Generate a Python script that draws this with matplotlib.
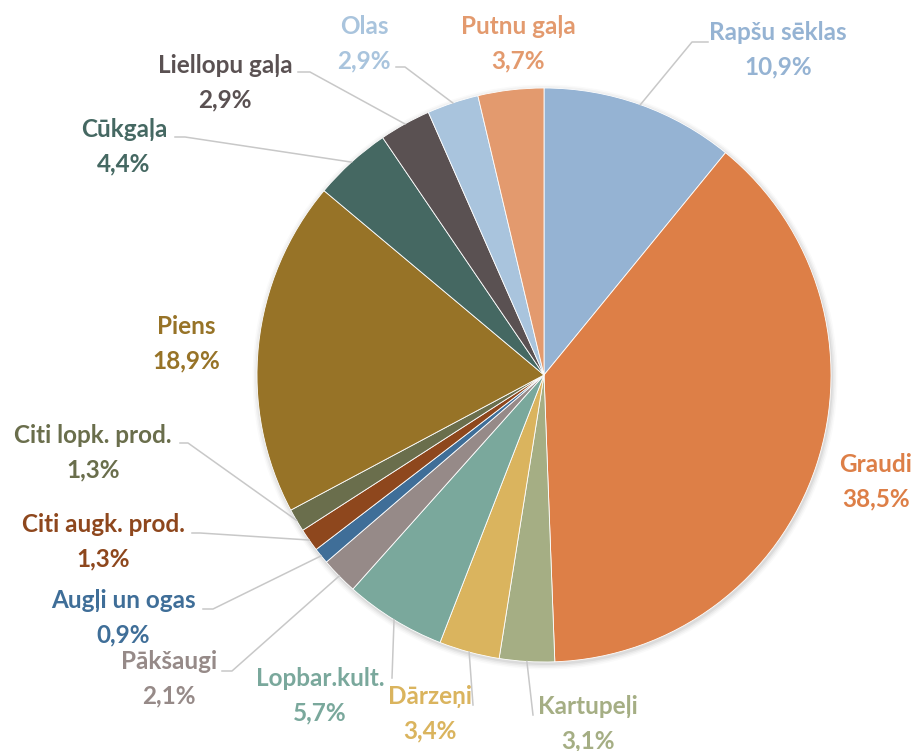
import numpy as np
import matplotlib
matplotlib.use('Agg')
import matplotlib.pyplot as plt
from matplotlib.patches import Circle

# dati
nozares = ["Rapšu sēklas", "Graudi", "Kartupeļi", "Dārzeņi", "Lopbar.kult.",
           "Pākšaugi", "Augļi un ogas", "Citi augk. prod.", "Citi lopk. prod.",
           "Piens", "Cūkgaļa", "Liellopu gaļa", "Olas", "Putnu gaļa"]
daļas = [10.9, 38.5, 3.1, 3.4, 5.7, 2.1, 0.9, 1.3, 1.3, 18.9, 4.4, 2.9, 2.9, 3.7]
krāsas = ["#95B3D3", "#DD7F47", "#A5AE84", "#DAB45E", "#7AA89C", "#968A88",
          "#3F6E98", "#8E471D", "#6A6E4C", "#977327", "#456862", "#5A5152",
          "#A9C4DD", "#E39A6E"]

# izkārtojums pikseļos (x, y no augšas)
W, H = 915, 751
cx, cy, r = 544, 375, 287
teksta_vietas = [(778, 50), (876, 482), (588, 724), (430, 714), (320, 696),
                 (169, 679), (123, 618), (103, 542), (93, 453), (186, 344),
                 (124, 147), (225, 83), (364, 44), (518, 44)]
# līniju lūzuma punkti (None = bez līnijas)
līnijas = [[(692, 42), (708, 42)], None, [(533, 715)], [(473, 705)],
           [(392, 678)], [(232, 671), (222, 671)], [(213, 609), (203, 609)],
           [(200, 533), (192, 533)], [(188, 443), (180, 443)], None,
           [(185, 137), (175, 137)], [(310, 72), (298, 72)],
           [(405, 67), (396, 67)], None]


def Y(y):
    return H - y


fig = plt.figure(figsize=(W / 100, H / 100), dpi=100)
ax = fig.add_axes([0, 0, 1, 1])

# viegla ēna
for i, a in enumerate([0.05, 0.04, 0.03, 0.02]):
    ax.add_patch(Circle((cx + 1, Y(cy) - 2), r + 1 + i * 1.5, color='black',
                        alpha=a, lw=0, zorder=0))

ax.pie(daļas, colors=krāsas, startangle=90, counterclock=False,
       center=(cx, Y(cy)), radius=r,
       wedgeprops=dict(linewidth=0.6, edgecolor='white'))

kum = np.cumsum([0] + daļas)
for i, nos in enumerate(nozares):
    tx, ty = teksta_vietas[i]
    teksts = nos + "\n" + f"{daļas[i]:.1f}".replace('.', ',') + "%"
    ax.text(tx, Y(ty), teksts, ha='center', va='center', color=krāsas[i],
            fontsize=17.5, fontweight='bold', family='Lato',
            linespacing=1.6, zorder=5)
    if līnijas[i] is None:
        continue
    # līnija sākas sektora vidū uz malas
    vid = (kum[i] + kum[i + 1]) / 2 / 100 * 2 * np.pi
    sx = cx + r * np.sin(vid)
    sy = cy - r * np.cos(vid)
    pts = [(sx, sy)] + līnijas[i]
    ax.plot([p[0] for p in pts], [Y(p[1]) for p in pts],
            color='#C8C8C8', lw=1.1, zorder=4)

ax.set_xlim(0, W)
ax.set_ylim(0, H)
ax.axis('off')

fig.savefig('out.png', dpi=100)
